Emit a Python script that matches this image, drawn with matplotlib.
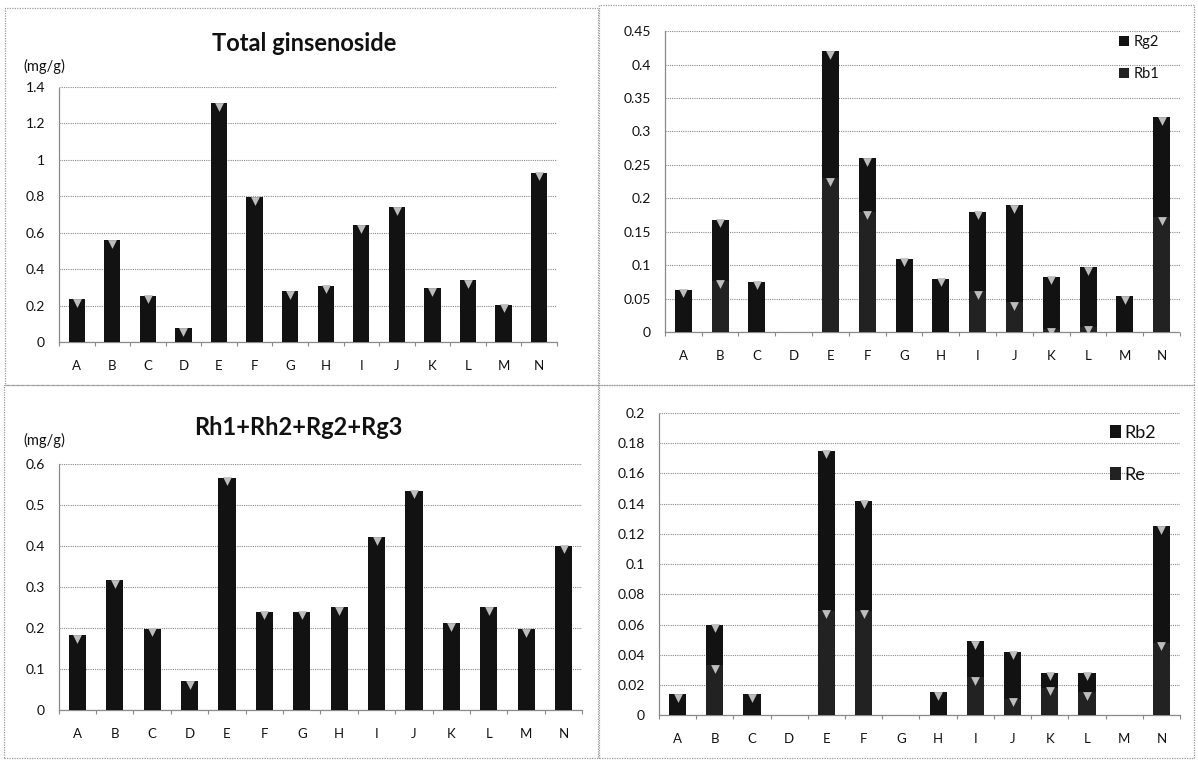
import matplotlib
matplotlib.use("Agg")
import matplotlib.pyplot as plt
import matplotlib.transforms as mtrans
from matplotlib.patches import Rectangle
import numpy as np

plt.rcParams['font.family'] = ['Lato', 'DejaVu Sans']

categories = ['A', 'B', 'C', 'D', 'E', 'F', 'G', 'H', 'I', 'J', 'K', 'L', 'M', 'N']

total_ginsenoside = [0.235, 0.56, 0.255, 0.075, 1.31, 0.795, 0.28, 0.31, 0.64, 0.74, 0.295, 0.34, 0.205, 0.93]

rb1 = [0.0, 0.077, 0.0, 0.0, 0.23, 0.18, 0.0, 0.0, 0.061, 0.045, 0.005, 0.008, 0.0, 0.172]
rg2 = [0.063, 0.091, 0.075, 0.0, 0.19, 0.08, 0.11, 0.08, 0.119, 0.145, 0.078, 0.089, 0.054, 0.149]

rh_rg_sum = [0.182, 0.316, 0.198, 0.07, 0.566, 0.24, 0.24, 0.25, 0.421, 0.535, 0.211, 0.25, 0.197, 0.40]

re = [0.0, 0.033, 0.0, 0.0, 0.069, 0.069, 0.0, 0.0, 0.025, 0.011, 0.018, 0.015, 0.0, 0.048]
rb2 = [0.014, 0.027, 0.014, 0.0, 0.106, 0.073, 0.0, 0.015, 0.024, 0.031, 0.010, 0.013, 0.0, 0.077]

W, H = 1198, 760
fig = plt.figure(figsize=(W / 100, H / 100), dpi=100)
fig.patch.set_facecolor('white')

# panel borders
for (x0, y0, w, h) in [(0.004, 0.493, 0.495, 0.497), (0.500, 0.493, 0.497, 0.500),
                       (0.003, 0.003, 0.496, 0.490), (0.500, 0.003, 0.497, 0.490)]:
    fig.patches.append(Rectangle((x0, y0), w, h, transform=fig.transFigure, fill=False,
                                 edgecolor='#9a9a9a', linestyle=(0, (1, 1)), linewidth=0.9))

DARK = '#121212'
MID = '#222222'
TRI = '#bdbdbd'
TXT = '#111111'
x = np.arange(len(categories))


def style_axes(ax, ymax, ystep, fmt):
    ax.set_xlim(-0.5, len(categories) - 0.5)
    ax.set_ylim(0, ymax)
    ticks = np.arange(0, ymax + ystep / 2, ystep)
    ax.set_yticks(ticks)
    ax.set_yticklabels([fmt(t) for t in ticks])
    ax.set_xticks(x)
    ax.set_xticklabels(categories)
    ax.set_xticks(np.arange(-0.5, len(categories), 1), minor=True)
    ax.tick_params(axis='x', which='major', length=0, pad=13, labelsize=9.5, colors=TXT)
    ax.tick_params(axis='x', which='minor', length=3, color='#888888', width=0.8)
    ax.tick_params(axis='y', length=0, pad=10, labelsize=10, colors=TXT)
    ax.grid(axis='y', color='#8a8a8a', linestyle=(0, (1, 1)), linewidth=0.8)
    ax.set_axisbelow(True)
    for s in ['top', 'right']:
        ax.spines[s].set_visible(False)
    for s in ['left', 'bottom']:
        ax.spines[s].set_color('#8a8a8a')
        ax.spines[s].set_linestyle((0, (1, 1)))
        ax.spines[s].set_linewidth(0.9)


def tops(ax, xs, ys):
    tr = mtrans.offset_copy(ax.transData, fig=fig, x=0, y=-3.5, units='dots')
    xs = [a for a, b in zip(xs, ys) if b > 0]
    ys = [b for b in ys if b > 0]
    ax.scatter(xs, ys, marker='v', s=40, color=TRI, linewidths=0, transform=tr, zorder=4)


def fmt_gen(t):
    s = ('%.2f' % t).rstrip('0').rstrip('.')
    return s if s else '0'


bw = 0.46

# Top-left
ax1 = fig.add_axes([0.0492, 0.55, 0.4157, 0.3355])
ax1.bar(x, total_ginsenoside, width=bw, color=DARK, zorder=3)
tops(ax1, x, total_ginsenoside)
style_axes(ax1, 1.4, 0.2, fmt_gen)
fig.text(0.254, 0.943, 'Total ginsenoside', ha='center', va='center', fontsize=17, fontweight='bold', color=TXT)
fig.text(0.0367, 0.912, '(mg/g)', ha='center', va='center', fontsize=10.5, color=TXT)

# Top-right (stacked)
ax2 = fig.add_axes([0.555, 0.563, 0.430, 0.396])
b1 = ax2.bar(x, rb1, width=bw, color=MID, zorder=3, label='Rb1')
b2 = ax2.bar(x, rg2, width=bw, bottom=rb1, color=DARK, zorder=3, label='Rg2')
tops(ax2, x, rb1)
tops(ax2, x, np.array(rb1) + np.array(rg2))
style_axes(ax2, 0.45, 0.05, fmt_gen)
ax2.legend([b2, b1], ['Rg2', 'Rb1'], loc='upper right', bbox_to_anchor=(0.985, 1.03), frameon=False,
           fontsize=10.5, handlelength=0.7, handleheight=0.7, handletextpad=0.3, labelspacing=1.2,
           labelcolor=TXT)

# Bottom-left
ax3 = fig.add_axes([0.049, 0.0658, 0.437, 0.3237])
ax3.bar(x, rh_rg_sum, width=bw, color=DARK, zorder=3)
tops(ax3, x, rh_rg_sum)
style_axes(ax3, 0.6, 0.1, fmt_gen)
fig.text(0.249, 0.437, 'Rh1+Rh2+Rg2+Rg3', ha='center', va='center', fontsize=17, fontweight='bold', color=TXT)
fig.text(0.0367, 0.421, '(mg/g)', ha='center', va='center', fontsize=10.5, color=TXT)

# Bottom-right (stacked)
ax4 = fig.add_axes([0.550, 0.059, 0.435, 0.3976])
b3 = ax4.bar(x, re, width=bw, color=MID, zorder=3, label='Re')
b4 = ax4.bar(x, rb2, width=bw, bottom=re, color=DARK, zorder=3, label='Rb2')
tops(ax4, x, re)
tops(ax4, x, np.array(re) + np.array(rb2))
style_axes(ax4, 0.2, 0.02, fmt_gen)
ax4.legend([b4, b3], ['Rb2', 'Re'], loc='upper right', bbox_to_anchor=(0.985, 1.015), frameon=False,
           fontsize=13, handlelength=0.6, handleheight=0.7, handletextpad=0.2, labelspacing=1.45,
           labelcolor=TXT)

fig.savefig('out.png', dpi=100, facecolor='white')
